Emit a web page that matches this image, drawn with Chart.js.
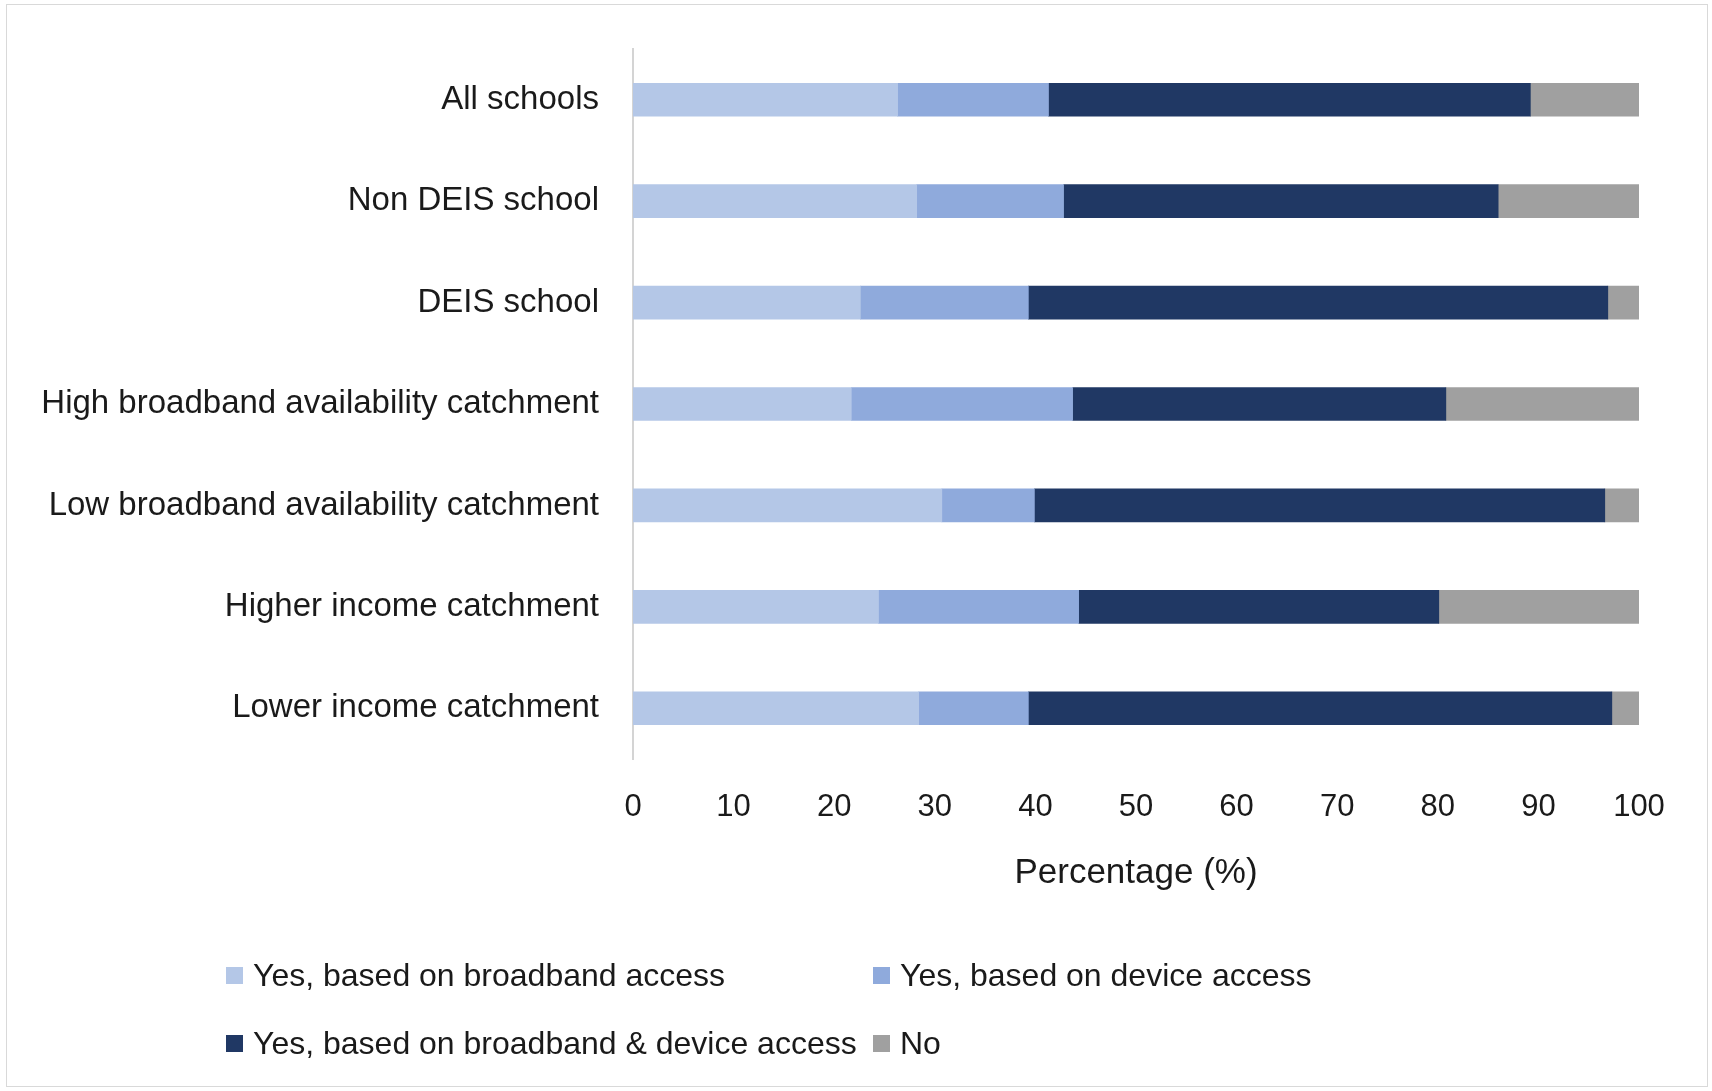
<!DOCTYPE html>
<html>
<head>
<meta charset="utf-8">
<title>Remote learning support by school type</title>
<script src="https://cdn.jsdelivr.net/npm/chart.js@4"></script>
<style>
  html, body { margin: 0; padding: 0; background: #fff; }
  #frame {
    position: absolute; left: 6px; top: 4px; width: 1702px; height: 1083px;
    border: 1.5px solid #d9d9d9; box-sizing: border-box;
  }
  #wrap { position: absolute; left: 0; top: 0; width: 1712px; height: 1091px; }
  #legend {
    position: absolute; left: 226px; top: 950px;
    display: grid; grid-template-columns: 647px auto; row-gap: 18px;
    font-family: "Liberation Sans", Arial, sans-serif; font-size: 32px; color: #1a1a1a;
  }
  .item { display: flex; align-items: center; height: 50px; white-space: nowrap; }
  .box { width: 17px; height: 17px; margin-right: 10px; flex: none; }
</style>
</head>
<body>
<div id="frame"></div>
<div id="wrap"><canvas id="chart" width="1712" height="1091"></canvas></div>
<div id="legend"></div>

<script>
// ── Data ──────────────────────────────────────────────────────
const categories = [
  'All schools',
  'Non DEIS school',
  'DEIS school',
  'High broadband availability catchment',
  'Low broadband availability catchment',
  'Higher income catchment',
  'Lower income catchment',
];
const seriesLabels = [
  'Yes, based on broadband access',
  'Yes, based on device access',
  'Yes, based on broadband & device access',
  'No',
];
const broadbandOnly = [26.3, 28.2, 22.6, 21.7, 30.7, 24.4, 28.4];
const deviceOnly    = [15.0, 14.6, 16.7, 22.0,  9.2, 19.9, 10.9];
const bothAccess    = [47.9, 43.2, 57.6, 37.1, 56.7, 35.8, 58.0];
const noAccess      = [10.8, 14.0,  3.1, 19.2,  3.4, 19.9,  2.7];
const xTicks = [0, 10, 20, 30, 40, 50, 60, 70, 80, 90, 100];

const seriesColors = ['#b4c7e7', '#8faadc', '#203864', '#a0a0a0'];
const seriesValues = [broadbandOnly, deviceOnly, bothAccess, noAccess];

const fontFamily = '"Liberation Sans", Arial, sans-serif';
const textColor = '#1a1a1a';

// ── Chart ─────────────────────────────────────────────────────
const datasets = seriesValues.map((vals, i) => ({
  label: seriesLabels[i],
  data: vals,
  backgroundColor: seriesColors[i],
  borderWidth: 0,
  barThickness: 33,
}));

new Chart(document.getElementById('chart'), {
  type: 'bar',
  data: { labels: categories, datasets },
  options: {
    indexAxis: 'y',
    responsive: false,
    animation: false,
    layout: { padding: { top: 49, right: 73, bottom: 200, left: 0 } },
    plugins: {
      legend: { display: false },
      tooltip: { enabled: false },
    },
    scales: {
      x: {
        stacked: true,
        min: 0,
        max: 100,
        afterBuildTicks: (scale) => { scale.ticks = xTicks.map(v => ({ value: v })); },
        grid: { display: false, drawTicks: false },
        border: { display: false },
        ticks: {
          color: textColor,
          font: { family: fontFamily, size: 31, lineHeight: 1 },
          padding: 33,
          maxRotation: 0,
        },
        title: {
          display: true,
          text: 'Percentage (%)',
          color: textColor,
          font: { family: fontFamily, size: 35, lineHeight: 1 },
          padding: { top: 0, bottom: 0 },
        },
      },
      y: {
        stacked: true,
        // fixed axis width; labels sit well inside the bands so no extra top/bottom room needed
        afterFit: (scale) => {
          scale.width = 633;
          scale.paddingTop = 0;
          scale.paddingBottom = 0;
        },
        grid: { display: false, drawTicks: false },
        border: { display: true, color: '#d4d4d4', width: 2 },
        ticks: {
          color: textColor,
          font: { family: fontFamily, size: 33 },
          padding: 34,
        },
      },
    },
  },
});

// ── Legend (two aligned columns) ──────────────────────────────
const legendEl = document.getElementById('legend');
seriesLabels.forEach((label, i) => {
  const item = document.createElement('div');
  item.className = 'item';
  const box = document.createElement('span');
  box.className = 'box';
  box.style.background = seriesColors[i];
  item.appendChild(box);
  item.appendChild(document.createTextNode(label));
  legendEl.appendChild(item);
});
</script>
</body>
</html>
